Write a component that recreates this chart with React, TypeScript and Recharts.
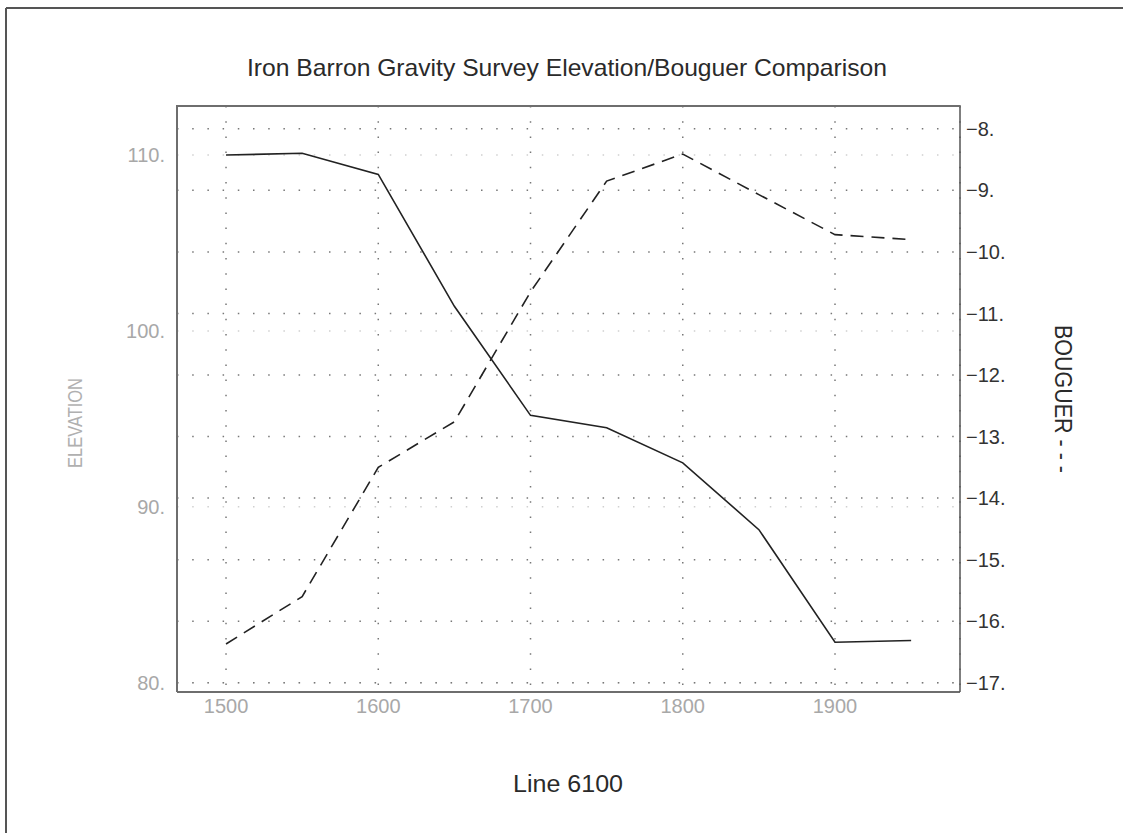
import { LineChart, Line, XAxis, YAxis, CartesianGrid } from 'recharts'

const stations = [1500, 1550, 1600, 1650, 1700, 1750, 1800, 1850, 1900, 1950]
const elevation = [110.0, 110.1, 108.9, 101.4, 95.2, 94.5, 92.5, 88.7, 82.3, 82.4]
const bouguer = [-16.37, -15.6, -13.5, -12.76, -10.65, -8.85, -8.41, -9.07, -9.72, -9.8]

const xTicks = [1500, 1600, 1700, 1800, 1900]
const elevTicks = [80, 90, 100, 110]
const bougTicks = [-17, -16, -15, -14, -13, -12, -11, -10, -9, -8]

const data = stations.map((s, i) => ({ station: s, elevation: elevation[i], bouguer: bouguer[i] }))

const FONT = '"Liberation Sans", Arial, sans-serif'
const AXIS = { stroke: '#6e6e6e', strokeWidth: 2 }

export default function App() {
  return (
    <div style={{ position: 'absolute', left: 0, top: 0, width: 1123, height: 833, background: '#fff' }}>
      <LineChart
        width={1123}
        height={833}
        data={data}
        margin={{ top: 106, right: 83, bottom: 101, left: 97 }}
      >
        {/* faint grid on the elevation ticks */}
        <CartesianGrid
          yAxisId="left"
          vertical={false}
          stroke="#d0d0d0"
          strokeWidth={1.5}
          strokeDasharray="1.5 13.7"
        />
        {/* main dotted grid on the bouguer ticks + stations */}
        <CartesianGrid
          yAxisId="right"
          stroke="#777"
          strokeWidth={1.5}
          strokeDasharray="1.5 13.7"
        />
        <XAxis
          dataKey="station"
          type="number"
          domain={[1467.8, 1982.1]}
          ticks={xTicks}
          allowDataOverflow
          height={40}
          tickLine={false}
          tickMargin={1}
          axisLine={AXIS}
          tick={{ fill: '#a8a8a8', fontSize: 20, fontFamily: FONT }}
        />
        <YAxis
          yAxisId="left"
          type="number"
          domain={[79.47, 112.79]}
          ticks={elevTicks}
          allowDataOverflow
          width={80}
          tickLine={false}
          tickMargin={6}
          axisLine={AXIS}
          tickFormatter={(v: number) => `${v}.`}
          tick={{ fill: '#a8a8a8', fontSize: 20, fontFamily: FONT }}
        />
        <YAxis
          yAxisId="right"
          orientation="right"
          type="number"
          domain={[-17.15, -7.63]}
          ticks={bougTicks}
          allowDataOverflow
          width={80}
          tickLine={false}
          tickMargin={0}
          axisLine={{ stroke: '#555', strokeWidth: 1.5 }}
          tickFormatter={(v: number) => `\u2212${Math.abs(v)}.`}
          tick={{ fill: '#333', fontSize: 20, fontFamily: FONT }}
        />
        <Line
          yAxisId="left"
          dataKey="elevation"
          stroke="#222"
          strokeWidth={1.6}
          dot={false}
          type="linear"
          isAnimationActive={false}
        />
        <Line
          yAxisId="right"
          dataKey="bouguer"
          stroke="#222"
          strokeWidth={1.6}
          strokeDasharray="13 8"
          dot={false}
          type="linear"
          isAnimationActive={false}
        />
      </LineChart>

      <svg
        width={1123}
        height={833}
        style={{ position: 'absolute', left: 0, top: 0, pointerEvents: 'none' }}
      >
        <line x1={6} y1={8} x2={1123} y2={8} stroke="#555" strokeWidth={2} />
        <line x1={6} y1={8} x2={6} y2={833} stroke="#555" strokeWidth={2} />
        {/* top edge of the plot frame */}
        <line x1={176} y1={106} x2={960.75} y2={106} stroke="#6e6e6e" strokeWidth={2} />
        <text
          x={567}
          y={76}
          textAnchor="middle"
          fontFamily={FONT}
          fontSize={24}
          fill="#2a2a2a"
          textLength={640}
          lengthAdjust="spacingAndGlyphs"
        >
          Iron Barron Gravity Survey Elevation/Bouguer Comparison
        </text>
        <text
          x={568}
          y={792}
          textAnchor="middle"
          fontFamily={FONT}
          fontSize={23}
          fill="#2a2a2a"
          textLength={110}
          lengthAdjust="spacingAndGlyphs"
        >
          Line 6100
        </text>
        <text
          x={74.5}
          y={430.5}
          transform="rotate(-90, 74.5, 423)"
          textAnchor="middle"
          fontFamily={FONT}
          fontSize={21}
          fill="#b0b0b0"
          textLength={90}
          lengthAdjust="spacingAndGlyphs"
        >
          ELEVATION
        </text>
        <text
          x={1063.5}
          y={407.5}
          transform="rotate(90, 1063.5, 399)"
          textAnchor="middle"
          fontFamily={FONT}
          fontSize={23}
          fill="#2a2a2a"
          textLength={148}
          lengthAdjust="spacingAndGlyphs"
        >
          BOUGUER - - -
        </text>
      </svg>
    </div>
  )
}
